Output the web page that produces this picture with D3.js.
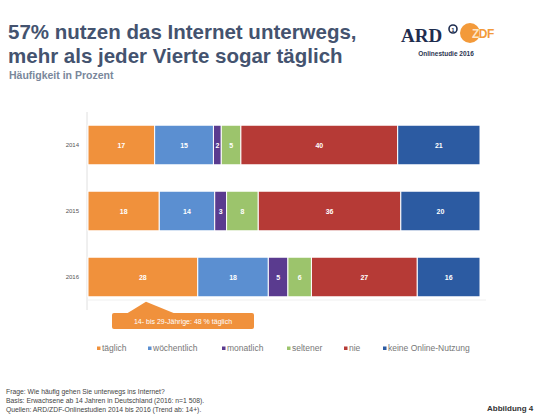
<!DOCTYPE html>
<html>
<head>
<meta charset="utf-8">
<script src="https://cdn.jsdelivr.net/npm/d3@7"></script>
<style>
  html, body { margin: 0; padding: 0; background: #fff; }
  svg { display: block; font-family: "Liberation Sans", Arial, sans-serif; }
</style>
</head>
<body>
<svg id="chart" width="535" height="415"></svg>
<script>
// Usage frequency of mobile internet, share in percent
const years = ["2014", "2015", "2016"];
const categories = ["täglich", "wöchentlich", "monatlich", "seltener", "nie", "keine Online-Nutzung"];
const taeglich     = [17, 18, 28];
const woechentlich = [15, 14, 18];
const monatlich    = [2, 3, 5];
const seltener     = [5, 8, 6];
const nie          = [40, 36, 27];
const keineOnline  = [21, 20, 16];
const colors = ["#f0913c", "#5b8fd1", "#5a3b8f", "#9cc46c", "#b63a36", "#2c5ba2"];

const series = [taeglich, woechentlich, monatlich, seltener, nie, keineOnline];
const rows = years.map((y, i) => {
  const r = { year: y };
  categories.forEach((c, k) => r[c] = series[k][i]);
  return r;
});

const svg = d3.select("#chart");

// Header
svg.append("text").attr("x", 8).attr("y", 39)
  .attr("font-size", 20.5).attr("font-weight", "bold").attr("fill", "#44536f")
  .text("57% nutzen das Internet unterwegs,");
svg.append("text").attr("x", 8).attr("y", 63)
  .attr("font-size", 20.5).attr("font-weight", "bold").attr("fill", "#44536f")
  .text("mehr als jeder Vierte sogar täglich");
svg.append("text").attr("x", 9).attr("y", 79)
  .attr("font-size", 10.5).attr("font-weight", "bold").attr("fill", "#7a879b")
  .text("Häufigkeit in Prozent");

// Broadcaster marks
svg.append("text").attr("x", 401).attr("y", 42)
  .attr("font-family", "'Liberation Serif', serif").attr("font-size", 19)
  .attr("font-weight", "bold").attr("fill", "#1f2d4f").text("ARD");
svg.append("circle").attr("cx", 453).attr("cy", 29).attr("r", 4)
  .attr("fill", "none").attr("stroke", "#1f2d4f").attr("stroke-width", 1.6);
svg.append("text").attr("x", 453).attr("y", 31.5).attr("text-anchor", "middle")
  .attr("font-size", 6).attr("font-weight", "bold").attr("fill", "#1f2d4f").text("1");
svg.append("defs").append("clipPath").attr("id", "zdfClip")
  .append("circle").attr("cx", 470).attr("cy", 33).attr("r", 10);
svg.append("circle").attr("cx", 470).attr("cy", 33).attr("r", 10).attr("fill", "#f39a3a");
svg.append("text").attr("x", 472).attr("y", 38)
  .attr("font-size", 12).attr("font-weight", "bold").attr("fill", "#f39a3a")
  .attr("letter-spacing", -0.5).text("ZDF");
svg.append("text").attr("x", 472).attr("y", 38).attr("clip-path", "url(#zdfClip)")
  .attr("font-size", 12).attr("font-weight", "bold").attr("fill", "#fde6c8")
  .attr("letter-spacing", -0.5).text("ZDF");
svg.append("text").attr("x", 446).attr("y", 56).attr("text-anchor", "middle")
  .attr("font-size", 6.5).attr("font-weight", "bold").attr("fill", "#2b3550")
  .text("Onlinestudie 2016");

// Scales (each year is drawn as a 100 % stacked bar)
const x = d3.scaleLinear().domain([0, 1]).range([88, 480]);
const y = d3.scaleBand().domain(years).range([112, 310]).paddingInner(0.4).paddingOuter(0.2);

// Axis frame
svg.append("line").attr("x1", 87).attr("x2", 87).attr("y1", 112).attr("y2", 310)
  .attr("stroke", "#e0e0e0").attr("stroke-width", 1);
svg.append("line").attr("x1", 87).attr("x2", 486).attr("y1", 300).attr("y2", 300)
  .attr("stroke", "#f0f0f0").attr("stroke-width", 1);

const yAxis = svg.append("g").attr("transform", "translate(79,0)")
  .call(d3.axisLeft(y).tickSize(0).tickPadding(0));
yAxis.select(".domain").remove();
yAxis.selectAll("text").attr("font-size", 6).attr("fill", "#555").attr("font-family", "'Liberation Sans', Arial, sans-serif");

// Stacked bars
const stacked = d3.stack().keys(categories).offset(d3.stackOffsetExpand)(rows);
const color = d3.scaleOrdinal().domain(categories).range(colors);

const layer = svg.append("g").selectAll("g").data(stacked).join("g")
  .attr("fill", d => color(d.key));

layer.selectAll("rect").data(d => d).join("rect")
  .attr("x", d => x(d[0]))
  .attr("y", d => y(d.data.year))
  .attr("width", d => x(d[1]) - x(d[0]))
  .attr("height", y.bandwidth())
  .attr("stroke", "#fff").attr("stroke-width", 1);

layer.selectAll("text").data(d => d.map(v => ({ v, key: d.key }))).join("text")
  .attr("x", d => (x(d.v[0]) + x(d.v[1])) / 2)
  .attr("y", d => y(d.v.data.year) + y.bandwidth() / 2 + 2.5)
  .attr("text-anchor", "middle")
  .attr("font-size", 7).attr("font-weight", "bold").attr("fill", "#fff")
  .text(d => d.v.data[d.key]);

// Callout for the youngest age group
const callout = svg.append("g");
callout.append("path")
  .attr("d", `M146,${y("2016") + y.bandwidth() + 5} L126,314 L176,314 Z`)
  .attr("fill", "#f0913c");
callout.append("rect").attr("x", 112).attr("y", 313).attr("width", 142).attr("height", 16)
  .attr("rx", 2).attr("fill", "#f0913c");
callout.append("text").attr("x", 183).attr("y", 323.5).attr("text-anchor", "middle")
  .attr("font-size", 7).attr("fill", "#fff")
  .text("14- bis 29-Jährige: 48 % täglich");

// Legend
const legendX = [97, 148, 222, 287, 344, 383];
const legend = svg.append("g").selectAll("g").data(categories).join("g")
  .attr("transform", (d, i) => `translate(${legendX[i]},351)`);
legend.append("rect").attr("x", 0).attr("y", -4.5).attr("width", 3.5).attr("height", 3.5)
  .attr("fill", d => color(d));
legend.append("text").attr("x", 5).attr("y", 0)
  .attr("font-size", 8.5).attr("fill", "#777").text(d => d);

// Footnotes
const notes = [
  "Frage: Wie häufig gehen Sie unterwegs ins Internet?",
  "Basis: Erwachsene ab 14 Jahren in Deutschland (2016: n=1 508).",
  "Quellen: ARD/ZDF-Onlinestudien 2014 bis 2016 (Trend ab: 14+)."
];
svg.append("g").selectAll("text").data(notes).join("text")
  .attr("x", 6).attr("y", (d, i) => 394 + i * 9)
  .attr("font-size", 6.8).attr("fill", "#444").text(d => d);
svg.append("text").attr("x", 487).attr("y", 411)
  .attr("font-size", 8).attr("font-weight", "bold").attr("fill", "#333")
  .text("Abbildung 4");
</script>
</body>
</html>
